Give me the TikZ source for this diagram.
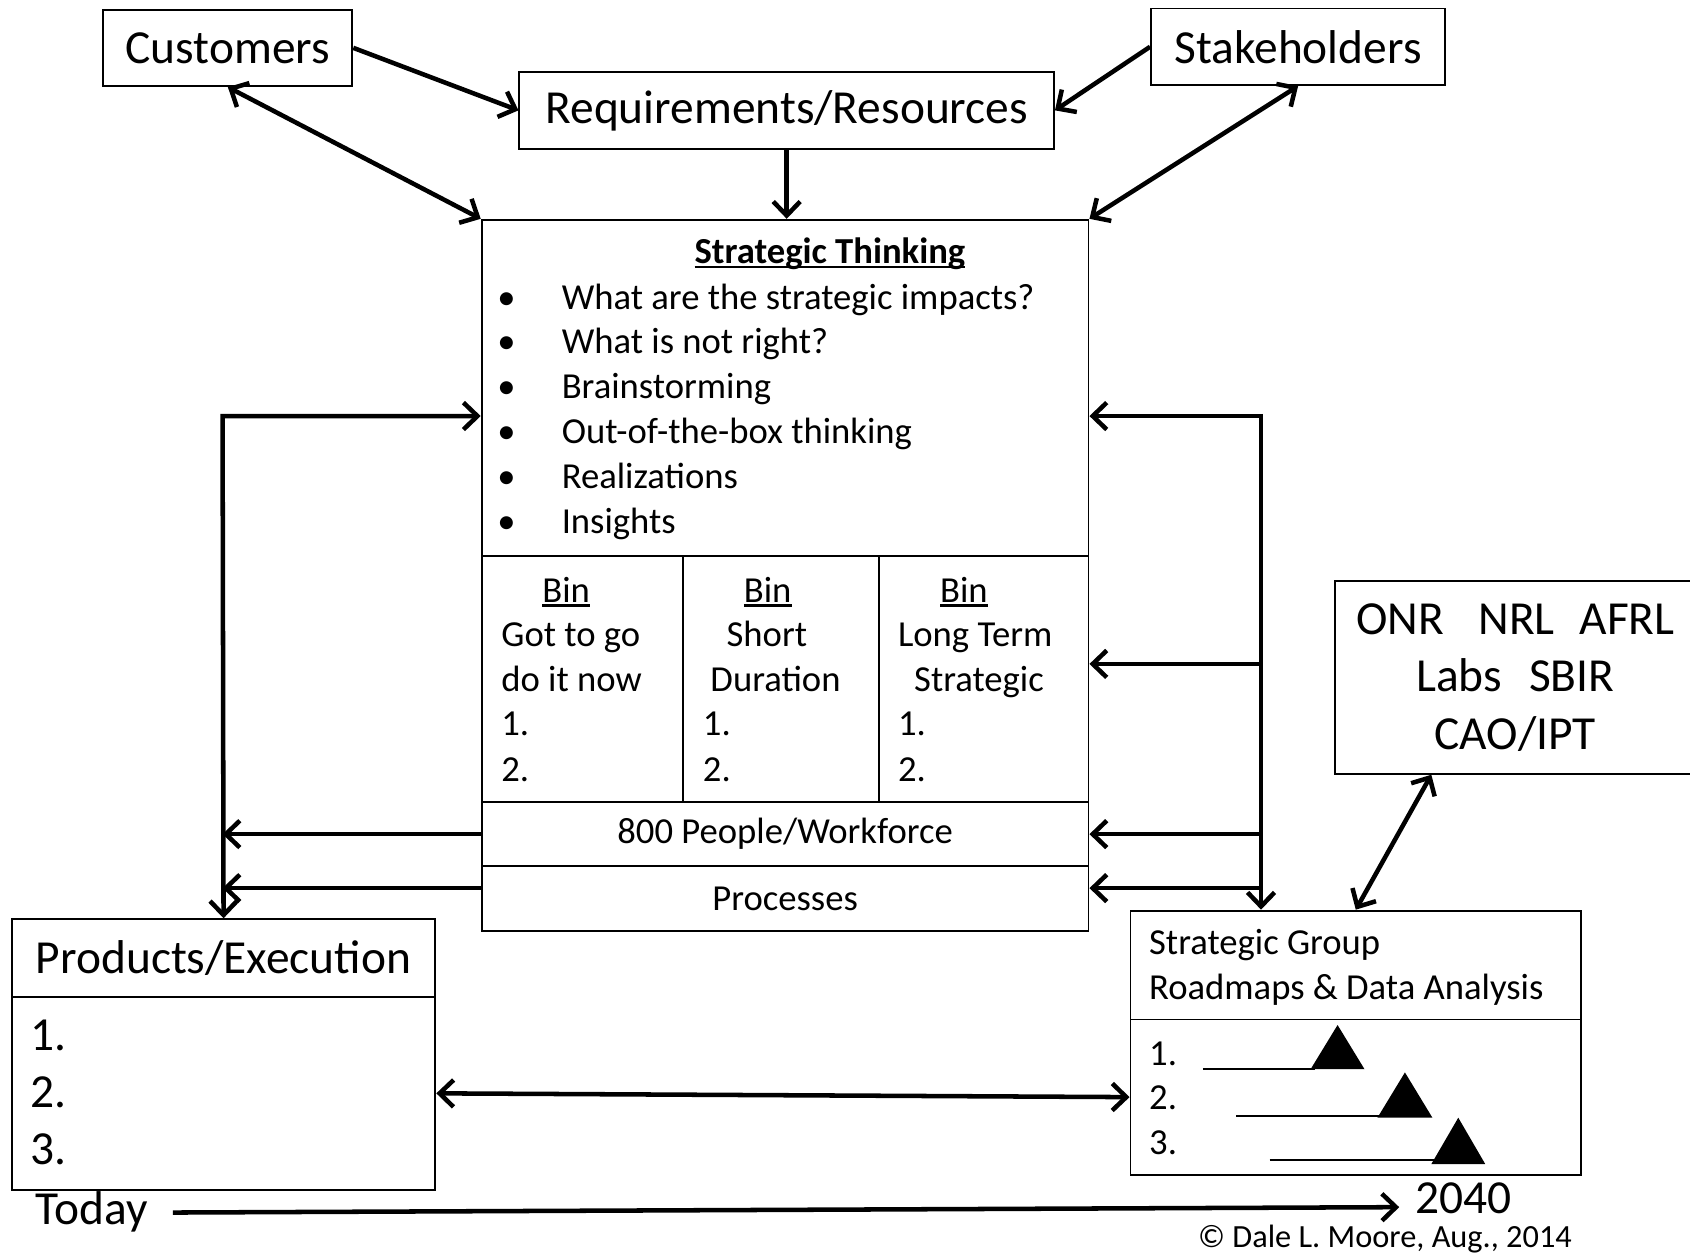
\documentclass[tikz,border=0pt]{standalone}
\usepackage{fontspec}
\setmainfont{Carlito}
\usetikzlibrary{arrows.meta}

% type sizes
\newcommand\bigsz{\fontsize{44bp}{53.5bp}\selectfont}
\newcommand\midsz{\fontsize{34bp}{41.5bp}\selectfont}
\newcommand\smlsz{\fontsize{30bp}{36bp}\selectfont}
% underline that crosses descenders, as in the headings
\newcommand\ulin[1]{\setbox0=\hbox{#1}\rlap{\rule[-0.12em]{\wd0}{0.07em}}\box0}

\tikzset{
  box/.style={draw, line width=1.8bp, inner sep=0pt, anchor=north west},
  txt/.style={inner sep=0pt, text height=0.65em, text depth=0.2em},
  bigtxt/.style={txt, font=\bigsz, yshift=-11.5bp},
  midtxt/.style={txt, font=\midsz, yshift=-9.5bp},
  smltxt/.style={txt, font=\smlsz, yshift=-5bp},
  conn/.style={line width=4.2bp,
    -{Straight Barb[length=13bp,width=25bp]}},
  dconn/.style={line width=4.2bp,
    {Straight Barb[length=13bp,width=25bp]}-{Straight Barb[length=13bp,width=25bp]}},
  tickline/.style={line width=1.8bp},
}

\begin{document}
\begin{tikzpicture}[x=1bp, y=-1bp]
\useasboundingbox (0,0) rectangle (1568,1165);
\clip (0,0) rectangle (1568,1165);

% ---- top row ----
\node[box, minimum width=231bp, minimum height=71bp, font=\bigsz] (cust) at (95,8) {Customers};
\node[box, minimum width=496bp, minimum height=71bp, font=\bigsz] (req) at (481,66) {Requirements/Resources};
\node[box, minimum width=273bp, minimum height=71bp, font=\bigsz] (stake) at (1067,7) {Stakeholders};

% ---- central block ----
\node[box, minimum width=563bp, minimum height=312bp] (st) at (446,203) {};
\node[midtxt, font=\midsz\bfseries] (title) at (770,233) {\ulin{Strategic Thinking}};
\foreach \t [count=\i] in {What are the strategic impacts?, What is not right?, Brainstorming,
    Out-of-the-box thinking, Realizations, Insights} {
  \node[midtxt] (bu\i) at (470,{275+41.6*(\i-1)}) {\textbullet};
  \node[midtxt, anchor=west] (bl\i) at (521,{275+41.6*(\i-1)}) {\t};
}

\node[box, minimum width=187bp, minimum height=228bp] (bin1) at (446,515) {};
\node[box, minimum width=182bp, minimum height=228bp] (bin2) at (633,515) {};
\node[box, minimum width=194bp, minimum height=228bp] (bin3) at (815,515) {};
\foreach \x/\y/\t [count=\i] in {
    503/547/\ulin{Bin}, 465/588/Got to go, 465/630/do it now, 465/671/1., 465/713/2.,
    690/547/\ulin{Bin}, 674/588/Short, 659/630/Duration, 652/671/1., 652/713/2.,
    872/547/\ulin{Bin}, 833/588/Long Term, 848/630/Strategic, 833/671/1., 833/713/2.} {
  \node[midtxt, anchor=west] (bt\i) at (\x,\y) {\t};
}

\node[box, minimum width=563bp, minimum height=60bp, font=\midsz] (people) at (446,743) {800 People/Workforce};
\node[box, minimum width=563bp, minimum height=60bp, font=\midsz] (proc) at (446,803) {Processes};

% ---- products / execution ----
\node[box, minimum width=393bp, minimum height=72bp, font=\bigsz] (prodH) at (10,852) {Products/Execution};
\node[box, minimum width=393bp, minimum height=179bp] (prodB) at (10,924) {};
\node[bigtxt, anchor=west] (p1) at (28,961) {1.};
\node[bigtxt, anchor=west] (p2) at (28,1014) {2.};
\node[bigtxt, anchor=west] (p3) at (28,1067) {3.};

% ---- labs ----
\node[box, minimum width=334bp, minimum height=179bp, font=\bigsz, align=center] (onr) at (1238,538)
  {ONR\hspace{32bp}NRL\hspace{23bp}AFRL\\Labs\hspace{25bp}SBIR\\CAO/IPT};

% ---- strategic group ----
\node[box, minimum width=418bp, minimum height=101bp] (sgH) at (1048,844) {};
\node[box, minimum width=418bp, minimum height=144bp] (sgB) at (1048,945) {};
\node[midtxt, anchor=west] (sg1) at (1066,874) {Strategic Group};
\node[midtxt, anchor=west] (sg2) at (1066,916) {Roadmaps \& Data Analysis};
\node[midtxt, anchor=west] (r1) at (1066,977) {1.};
\node[midtxt, anchor=west] (r2) at (1066,1018) {2.};
\node[midtxt, anchor=west] (r3) at (1066,1059) {3.};
\draw[tickline] (1116,992) -- (1220,992);
\fill (1216,992) -- (1266,992) -- (1241,951) -- cycle;
\draw[tickline] (1147,1035) -- (1283,1035);
\fill (1278,1037) -- (1329,1037) -- (1303.5,995) -- cycle;
\draw[tickline] (1178,1076) -- (1333,1076);
\fill (1328,1080) -- (1378,1080) -- (1353,1037) -- cycle;

% ---- time line ----
\node[bigtxt, anchor=west] (today) at (33,1122) {Today};
\node[bigtxt, text depth=0pt, yshift=4.4bp] (yr) at (1358,1116) {2040};
\node[smltxt] (copy) at (1285,1150) {© Dale L. Moore, Aug., 2014};

% ---- connectors ----
\draw[conn] (cust.east) -- (req.west);
\draw[dconn] (cust.south) -- (st.north west);
\draw[conn] (req.south) -- (req.south |- st.north);
\draw[conn] (stake.west) -- (req.east);
\draw[dconn] (stake.south) -- (st.north east);

\coordinate (lt) at (206.5,386);
\coordinate (rt) at (1170,386);
\coordinate (rb) at (1170,616);
\coordinate (yproc) at (0,824);
\draw[dconn] (prodH.north) -- (lt) -- (lt -| st.west);
\draw[conn] (people.west) -- (people.west -| lt);
\draw[conn] (proc.west |- yproc) -- (lt |- yproc);

\draw[conn] ([yshift=2bp]rt) -- (rt |- sgH.north);
\draw[conn] (rt) -- (rt -| st.east);
\draw[conn] (rb) -- (rb -| st.east);
\draw[conn] (rt |- people.east) -- (people.east);
\draw[conn] (rt |- yproc) -- (proc.east |- yproc);

\draw[dconn] (prodB.east) -- (sgB.west);
\draw[dconn] ([xshift=90bp]onr.south west) -- (sgH.north);
\draw[conn] ([xshift=23bp,yshift=8.5bp]today.east) -- ([xshift=-15bp,yshift=3.1bp]yr.west);
\end{tikzpicture}
\end{document}
